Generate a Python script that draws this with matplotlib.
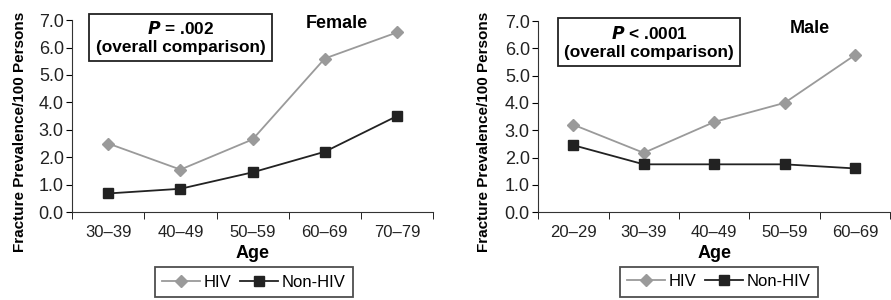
import matplotlib.pyplot as plt
import numpy as np

plt.rcParams['font.family'] = ['Liberation Sans', 'DejaVu Sans']

female_ages = ['30\u201339', '40\u201349', '50\u201359', '60\u201369', '70\u201379']
female_hiv = [2.5, 1.55, 2.65, 5.6, 6.55]
female_non = [0.68, 0.85, 1.45, 2.2, 3.5]

male_ages = ['20\u201329', '30\u201339', '40\u201349', '50\u201359', '60\u201369']
male_hiv = [3.2, 2.17, 3.3, 4.0, 5.75]
male_non = [2.45, 1.75, 1.75, 1.75, 1.6]

fig = plt.figure(figsize=(8.91, 3.0), dpi=100)

def panel(rect, ages, hiv, non, ptxt, sex, sex_xy, box_xy, leg_x, ylab_x):
    ax = fig.add_axes(rect)
    x = np.arange(len(ages))
    ax.plot(x, hiv, color='#9a9a9a', marker='D', markersize=6.5, lw=1.3,
            label='HIV')
    ax.plot(x, non, color='#222222', marker='s', markersize=7, lw=1.3,
            label='Non-HIV')
    ax.set_xlim(-0.5, len(ages) - 0.5)
    ax.set_ylim(0, 7)
    ax.set_yticks(np.arange(0, 7.1, 1))
    ax.set_yticklabels(['%.1f' % v for v in np.arange(0, 7.1, 1)])
    ax.set_xticks(x)
    ax.set_xticklabels(ages)
    ax.set_xticks(np.arange(-0.5, len(ages)), minor=True)
    ax.tick_params(axis='x', which='major', length=0, pad=9, labelsize=12,
                   labelcolor='#222222')
    ax.tick_params(axis='x', which='minor', length=5, direction='out')
    ax.tick_params(axis='y', length=4, direction='out', labelsize=13, pad=2,
                   labelcolor='#222222')
    for s in ['top', 'right']:
        ax.spines[s].set_visible(False)
    for s in ['left', 'bottom']:
        ax.spines[s].set_color('#333333')
    ax.set_xlabel('Age', fontweight='bold', fontsize=13, labelpad=4)
    ax.set_ylabel('Fracture Prevalence/100 Persons', fontweight='bold',
                  fontsize=11)
    ax.yaxis.set_label_coords(ylab_x, 0.42)
    ax.text(box_xy[0], box_xy[1], ptxt + '\n(overall comparison)',
            transform=ax.transAxes, ha='center', va='center',
            fontweight='bold', fontsize=12.4, linespacing=1.25,
            bbox=dict(boxstyle='square,pad=0.36', fc='white', ec='#222222',
                      lw=1.3))
    ax.text(sex_xy[0], sex_xy[1], sex, transform=ax.transAxes,
            ha='center', va='center', fontweight='bold', fontsize=13)
    leg = ax.legend(loc='upper center', bbox_to_anchor=(leg_x, -0.286),
                    ncol=2, frameon=True, fancybox=False, edgecolor='#222222',
                    fontsize=12, handlelength=2.3, columnspacing=0.5,
                    handletextpad=0.2, borderpad=0.45, borderaxespad=0)
    leg.get_frame().set_linewidth(1.3)
    return ax

panel([0.081, 0.293, 0.405, 0.64], female_ages, female_hiv, female_non,
      r'$\bfit{P}$ = .002', 'Female', (0.734, 0.98), (0.30, 0.91), 0.503,
      -0.124)
panel([0.604, 0.293, 0.395, 0.637], male_ages, male_hiv, male_non,
      r'$\bfit{P}$ < .0001', 'Male', (0.773, 0.96), (0.315, 0.89), 0.513,
      -0.134)

fig.savefig('out.png', dpi=100)
